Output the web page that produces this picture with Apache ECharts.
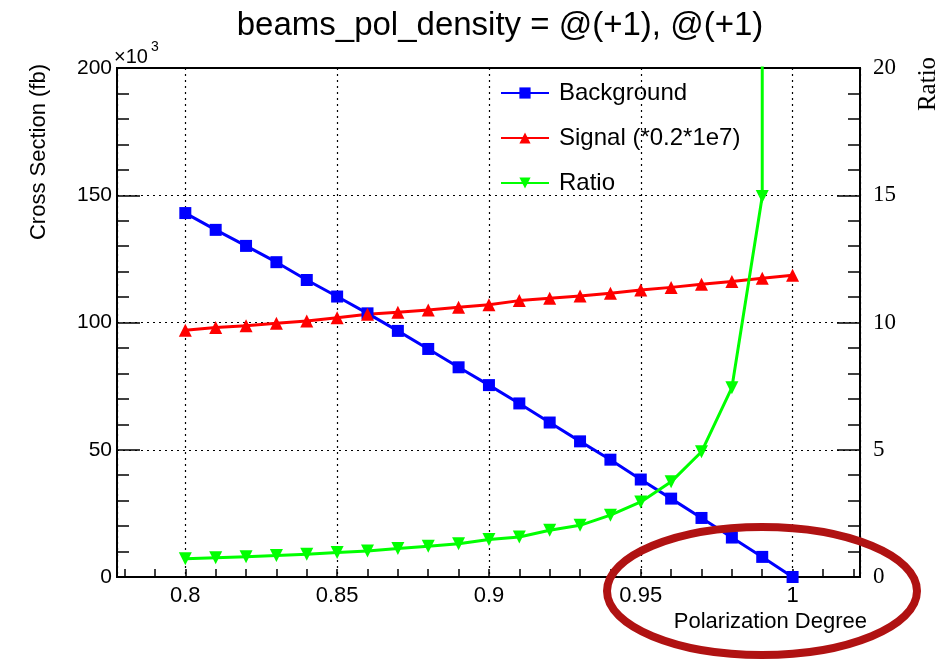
<!DOCTYPE html>
<html>
<head>
<meta charset="utf-8">
<script src="https://cdn.jsdelivr.net/npm/echarts@6/dist/echarts.min.js"></script>
<style>
  html, body { margin: 0; padding: 0; background: #fff; }
  #chart { width: 945px; height: 660px; }
</style>
</head>
<body>
<div id="chart"></div>
<script>
// ---- data ----
const polarization = [0.80, 0.81, 0.82, 0.83, 0.84, 0.85, 0.86, 0.87, 0.88, 0.89, 0.90,
                      0.91, 0.92, 0.93, 0.94, 0.95, 0.96, 0.97, 0.98, 0.99, 1.00];
// Cross section, x10^3 fb
const background = [143.0, 136.4, 130.1, 123.7, 116.7, 110.2, 103.6, 96.7, 89.6, 82.4, 75.4,
                    68.2, 60.7, 53.3, 46.1, 38.3, 30.8, 23.2, 15.5, 7.9, 0.0];
const signal = [97.0, 98.0, 98.7, 99.7, 100.6, 101.9, 103.2, 104.0, 104.9, 106.0, 107.0,
                108.6, 109.5, 110.4, 111.5, 112.8, 113.8, 115.0, 116.1, 117.4, 118.6];
// Ratio (right axis); last point diverges (background = 0), shown as going off the top
const ratio = [0.72, 0.76, 0.80, 0.84, 0.89, 0.96, 1.02, 1.12, 1.21, 1.31, 1.47,
               1.57, 1.84, 2.03, 2.43, 2.95, 3.74, 4.92, 7.44, 14.95, 10000];

const seriesNames = ['Background', 'Signal (*0.2*1e7)', 'Ratio'];
const xLabelValues = [0.8, 0.85, 0.9, 0.95, 1.0];
const xTickValues = [0.78, 0.79, 0.80, 0.81, 0.82, 0.83, 0.84, 0.85, 0.86, 0.87, 0.88, 0.89,
                     0.90, 0.91, 0.92, 0.93, 0.94, 0.95, 0.96, 0.97, 0.98, 0.99, 1.00, 1.01, 1.02];
const xRange = [0.7775, 1.0222];
const yLeftRange = [0, 200];
const yRightRange = [0, 20];

const titleText = 'beams_pol_density = @(+1), @(+1)';
const xTitle = 'Polarization Degree';
const yLeftTitle = 'Cross Section (fb)';
const yRightTitle = 'Ratio';

// ---- chart ----
const SANS = '"Liberation Sans", Arial, sans-serif';
const SERIF = '"Liberation Serif", "Times New Roman", serif';
const pair = (xs, ys) => xs.map((x, i) => [x, ys[i]]);

const chart = echarts.init(document.getElementById('chart'), null, { renderer: 'canvas' });
chart.setOption({
  animation: false,
  backgroundColor: '#fff',
  title: {
    text: titleText,
    left: 495, top: 4, textAlign: 'center',
    textStyle: { fontSize: 33, fontWeight: 'normal', fontFamily: SANS, color: '#000' }
  },
  grid: {
    left: 117, right: 85, top: 68, bottom: 83,
    show: true, borderColor: '#000', borderWidth: 2, backgroundColor: 'transparent'
  },
  legend: {
    orient: 'vertical', left: 500, top: 81, padding: 0,
    itemWidth: 48, itemHeight: 14, itemGap: 21,
    data: seriesNames,
    textStyle: { fontSize: 24, fontFamily: SANS, color: '#000', lineHeight: 24, padding: [0, 0, 0, 5] }
  },
  xAxis: [
    {
      type: 'value', min: xRange[0], max: xRange[1], position: 'bottom',
      axisLine: { show: true, lineStyle: { color: '#000', width: 2 } },
      axisTick: { show: true, inside: true, length: 8, customValues: xTickValues,
                  lineStyle: { color: '#000', width: 1.5 } },
      axisLabel: { show: true, customValues: xLabelValues, fontSize: 22, fontFamily: SANS,
                   color: '#000', margin: 8 },
      splitLine: { show: false }
    },
    {
      type: 'value', min: xRange[0], max: xRange[1], position: 'bottom',
      axisLine: { show: false }, axisTick: { show: false }, axisLabel: { show: false },
      splitLine: { show: true, lineStyle: { color: '#000', width: 1.2, type: [2, 4] } }
    }
  ],
  yAxis: [
    {
      type: 'value', min: yLeftRange[0], max: yLeftRange[1], interval: 50, position: 'left',
      axisLine: { show: true, lineStyle: { color: '#000', width: 2 } },
      axisTick: { show: true, inside: true, length: 23, lineStyle: { color: '#000', width: 1.5 } },
      minorTick: { show: true, splitNumber: 5, length: 12, lineStyle: { color: '#000', width: 1.5 } },
      axisLabel: { fontSize: 21, fontFamily: SANS, color: '#000', margin: 5 },
      splitLine: { show: true, lineStyle: { color: '#000', width: 1.2, type: [2, 4] } }
    },
    {
      type: 'value', min: yRightRange[0], max: yRightRange[1], interval: 5, position: 'right',
      axisLine: { show: true, lineStyle: { color: '#000', width: 2 } },
      axisTick: { show: true, inside: true, length: 23, lineStyle: { color: '#000', width: 1.5 } },
      minorTick: { show: true, splitNumber: 5, length: 12, lineStyle: { color: '#000', width: 1.5 } },
      axisLabel: { fontSize: 23, fontFamily: SERIF, color: '#000', margin: 13 },
      splitLine: { show: false }
    }
  ],
  series: [
    {
      name: seriesNames[0], type: 'line', xAxisIndex: 0, yAxisIndex: 0,
      data: pair(polarization, background),
      symbol: 'rect', symbolSize: 12, showAllSymbol: true, clip: true,
      lineStyle: { color: '#0000ff', width: 3 }, itemStyle: { color: '#0000ff' }, z: 3
    },
    {
      name: seriesNames[1], type: 'line', xAxisIndex: 0, yAxisIndex: 0,
      data: pair(polarization, signal),
      symbol: 'triangle', symbolSize: 13, showAllSymbol: true, clip: true,
      lineStyle: { color: '#ff0000', width: 3 }, itemStyle: { color: '#ff0000' }, z: 3
    },
    {
      name: seriesNames[2], type: 'line', xAxisIndex: 0, yAxisIndex: 1,
      data: pair(polarization, ratio),
      symbol: 'triangle', symbolRotate: 180, symbolSize: 13, showAllSymbol: true, clip: true,
      lineStyle: { color: '#00ff00', width: 3 }, itemStyle: { color: '#00ff00' }, z: 3
    }
  ],
  graphic: [
    { type: 'text', x: 39, y: 152, rotation: Math.PI / 2,
      style: { text: yLeftTitle, font: '22px ' + SANS, fill: '#000', align: 'center', verticalAlign: 'middle' } },
    { type: 'text', x: 928, y: 84, rotation: Math.PI / 2,
      style: { text: yRightTitle, font: '25px ' + SERIF, fill: '#000', align: 'center', verticalAlign: 'middle' } },
    { type: 'text', x: 867, y: 622,
      style: { text: xTitle, font: '22px ' + SANS, fill: '#000', align: 'right', verticalAlign: 'middle' } },
    { type: 'text', x: 114, y: 57,
      style: { text: '×10', font: '20px ' + SANS, fill: '#000', align: 'left', verticalAlign: 'middle' } },
    { type: 'text', x: 151, y: 47,
      style: { text: '3', font: '14px ' + SANS, fill: '#000', align: 'left', verticalAlign: 'middle' } },
    { type: 'ellipse', z: 100, shape: { cx: 762, cy: 591, rx: 155, ry: 64 },
      style: { fill: 'none', stroke: '#b01212', lineWidth: 8 } }
  ]
});
</script>
</body>
</html>
